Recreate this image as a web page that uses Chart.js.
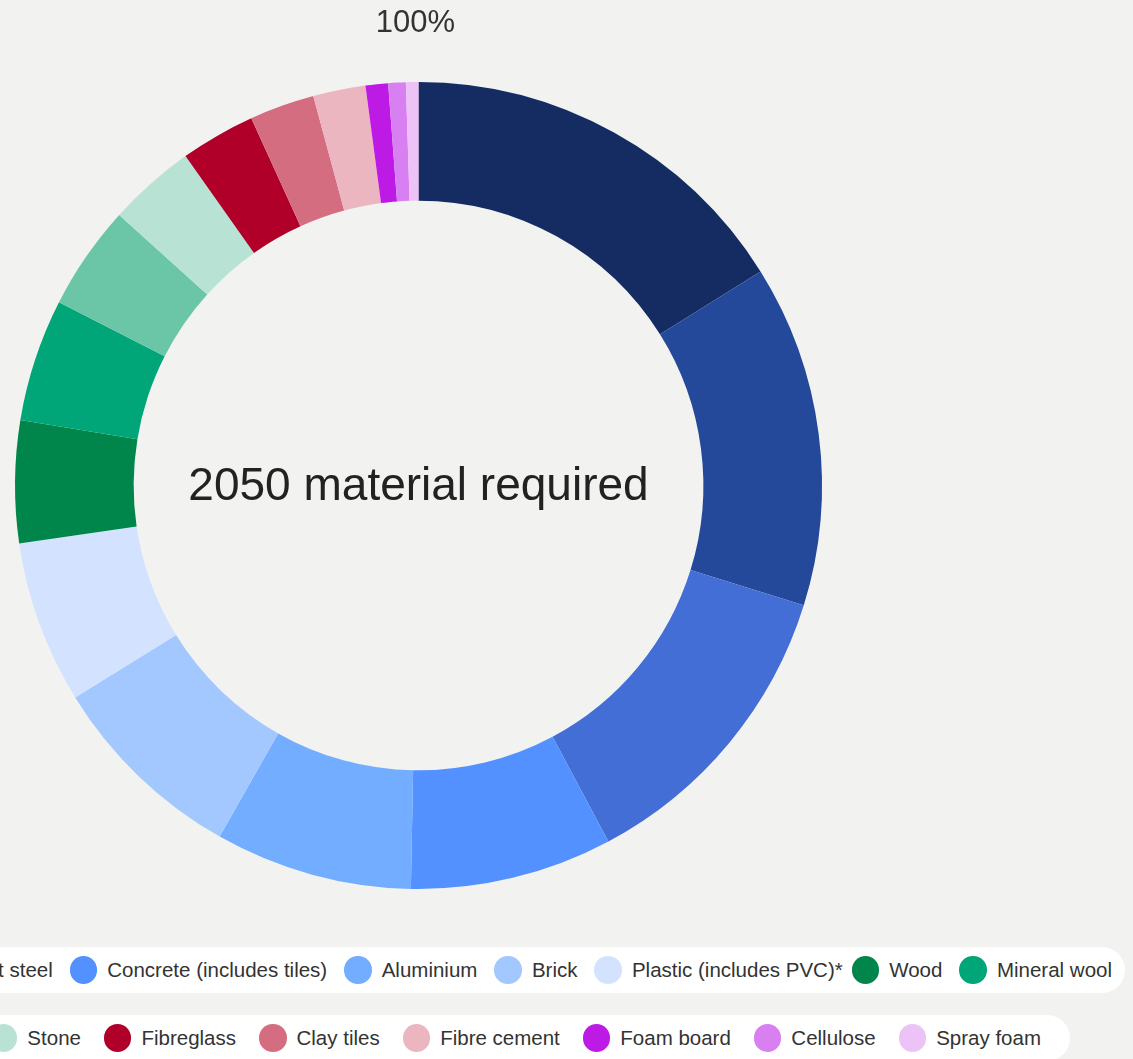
<!DOCTYPE html>
<html>
<head>
<meta charset="utf-8">
<script src="https://cdn.jsdelivr.net/npm/chart.js@4.4.1/dist/chart.umd.min.js"></script>
<style>
  html, body { margin: 0; padding: 0; background: #f2f2f0; overflow: hidden; }
  body { width: 1133px; height: 1059px; position: relative; font-family: "Liberation Sans", Arial, sans-serif; }
  #wrap { position: absolute; left: 0; top: 0; width: 1133px; height: 940px; }
  .legend-row { position: absolute; height: 46px; display: flex; align-items: center; background: #fff; border-radius: 23px; white-space: nowrap; }
  #row1 { top: 947px; right: 8px; padding: 0 13px 0 20px; gap: 17px; }
  #row2 { top: 1015px; right: 63px; padding: 0 29px 0 20px; gap: 23px; }
  .item { display: flex; align-items: center; font-size: 20.5px; color: #333; }
  .dot { width: 27.5px; height: 27.5px; border-radius: 50%; margin-right: 10px; flex: none; }
  .note { position: absolute; }
</style>
</head>
<body>
<div id="wrap"><canvas id="donutChart" width="1133" height="940"></canvas></div>
<div class="legend-row" id="row1"></div>
<div class="legend-row" id="row2"></div>
<script>
// share of 2050 material required, %
const materials = [
    'Aggregates', 'Structural steel', 'Reinforcement steel', 'Concrete (includes tiles)',
    'Aluminium', 'Brick', 'Plastic (includes PVC)*', 'Wood', 'Mineral wool',
    'Plasterboard', 'Stone', 'Fibreglass', 'Clay tiles', 'Fibre cement',
    'Foam board', 'Cellulose', 'Spray foam'
];
const shares = [16.1, 13.7, 12.4, 8.1, 7.9, 8.0, 6.5, 4.9, 4.9, 4.2, 3.5, 3.0, 2.6, 2.1, 0.9, 0.7, 0.5];
const colours = [
    '#152c63', '#25499a', '#436ed6', '#5291ff', '#73adff', '#a2c8ff', '#d3e3ff',
    '#00864a', '#00a678', '#6bc6a7', '#b8e2d3', '#b0002a', '#d46d80', '#ebb6bf',
    '#bd1ae6', '#d87ff2', '#ecc2f7'
];
const firstRowCount = 9;
const centreLabel = '2050 material required';
const totalLabel = '100%';

// text in the hole and the total above the ring
const centreText = {
    id: 'centreText',
    afterDraw(chart) {
        const arc = chart.getDatasetMeta(0).data[0];
        const ctx = chart.ctx;
        ctx.save();
        ctx.textAlign = 'center';
        ctx.textBaseline = 'middle';
        ctx.fillStyle = '#222';
        ctx.font = '46px "Liberation Sans", Arial, sans-serif';
        ctx.fillText(centreLabel, arc.x, arc.y + 2);
        ctx.fillStyle = '#333';
        ctx.font = '31px "Liberation Sans", Arial, sans-serif';
        ctx.fillText(totalLabel, arc.x - 3, arc.y - arc.outerRadius - 59);
        ctx.restore();
    }
};

let ctx = document.getElementById('donutChart').getContext('2d');
let donutChart = new Chart(ctx, {
    type: 'doughnut',
    data: {
        labels: materials,
        datasets: [{
            data: shares,
            backgroundColor: colours,
            borderWidth: 0
        }]
    },
    options: {
        responsive: false,
        animation: false,
        cutout: '70.6%',
        layout: { padding: { left: 15, right: 311, top: 82, bottom: 51 } },
        plugins: {
            legend: { display: false },
            tooltip: { enabled: false }
        }
    },
    plugins: [centreText]
});

// html legend, two pill rows
materials.forEach(function (name, i) {
    const item = document.createElement('div');
    item.className = 'item';
    const dot = document.createElement('span');
    dot.className = 'dot';
    dot.style.background = colours[i];
    item.appendChild(dot);
    const text = document.createElement('span');
    if (name.endsWith('*')) {
        text.textContent = name.slice(0, -1);
        const star = document.createElement('span');
        star.className = 'note';
        star.textContent = '*';
        text.appendChild(star);
    } else {
        text.textContent = name;
    }
    item.appendChild(text);
    document.getElementById(i < firstRowCount ? 'row1' : 'row2').appendChild(item);
});
</script>
</body>
</html>
